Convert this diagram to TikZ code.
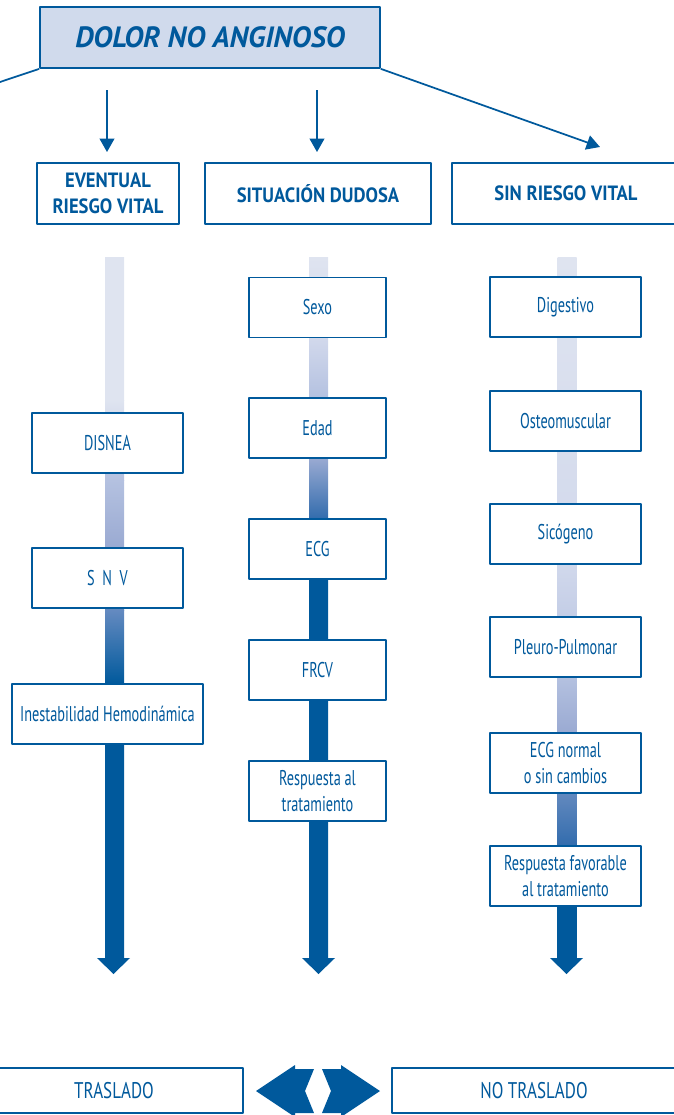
\documentclass[tikz,border=0pt]{standalone}
\usepackage{fontspec}
\setmainfont{PT Sans}
\newfontfamily\condfont{PT Sans}[FakeStretch=0.67]
\newfontfamily\headfont{PT Sans}[FakeStretch=0.9]
\newfontfamily\bajofont{PT Sans}[FakeStretch=0.75]
\usetikzlibrary{arrows.meta}
\definecolor{azul}{RGB}{0,89,156}
\definecolor{celeste}{RGB}{208,218,236}
\definecolor{b0}{RGB}{223,228,240}
\definecolor{b1}{RGB}{210,217,236}
\definecolor{b2}{RGB}{180,193,224}
\definecolor{b3}{RGB}{154,170,210}
\definecolor{b4}{RGB}{100,138,192}
\definecolor{b5}{RGB}{50,108,173}
\tikzset{
  caja/.style={draw=azul,line width=1.3pt,fill=white,text=azul,align=center,inner sep=0pt,
    font=\condfont\fontsize{16}{19.5}\selectfont,minimum height=45pt},
  cabeza/.style={caja,font=\headfont\bfseries\fontsize{15.5}{19}\selectfont,minimum height=45.75pt},
  linea/.style={draw=azul,line width=1.3pt},
}
\begin{document}
\begin{tikzpicture}[x=0.75pt,y=-0.75pt,>={Triangle[width=11pt,length=10pt]},line join=round]
\useasboundingbox (0,0) rectangle (674,1115);
% barras con degradado
\foreach \x/\ya/\yb/\ca/\cb in {
  114.5/257/400/b0/b0, 114.5/400/480/b0/b2, 114.5/480/548/b2/b3, 114.5/548/610/b3/b4,
  114.5/610/684/b4/azul, 114.5/684/959/azul/azul,
  318.5/257/337/b0/b1, 318.5/337/398/b1/b2, 318.5/398/458/b2/b3, 318.5/458/519/b3/b5,
  318.5/519/579/b5/azul, 318.5/579/959/azul/azul,
  567/257/560/b0/b1, 567/560/677/b1/b2, 567/677/733/b2/b3, 567/733/846/b3/b5,
  567/846/906/b5/azul, 567/906/959/azul/azul}
  \shade[top color=\ca,bottom color=\cb] (\x-9.5,\ya) rectangle (\x+9.5,\yb);
\foreach \x in {113.5,318.5,566.5}
  \fill[azul] (\x-16.5,958) -- (\x+16.5,958) -- (\x,974) -- cycle;

\path
(0,82)coordinate(izq)
(600,147)coordinate(der)
(107,90)coordinate(a1) (107,152)coordinate(a2)
(317,90)coordinate(b1) (317,152)coordinate(b2)
;
\node[caja,fill=celeste,minimum width=255pt,minimum height=45.75pt,
  font=\bfseries\itshape\fontsize{22}{26}\selectfont] (dolor) at (210,37.5) {DOLOR NO ANGINOSO};
\draw[linea] (dolor.south west) -- (izq);
\draw[linea,->] (dolor.south east) -- (der);
\draw[linea,->] (a1) -- (a2);
\draw[linea,->] (b1) -- (b2);

\node[cabeza,minimum width=106.5pt] (eventual) at (108,193.5) {EVENTUAL\\RIESGO VITAL};
\node[cabeza,minimum width=169.5pt] (dudosa) at (318,193.5) {SITUACIÓN DUDOSA};
\node[cabeza,minimum width=171pt] (sinriesgo) at (566,193.5) {SIN RIESGO VITAL};

% columna 1
\node[caja,minimum width=113pt] (disnea) at (107.5,443) {DISNEA};
\node[caja,minimum width=113pt] (snv) at (107.5,578) {S~~N~~V};
\node[caja,minimum width=143pt] (inest) at (107.5,714) {Inestabilidad Hemodinámica};
% columna 2
\foreach \n/\y/\t in {sexo/307.5/Sexo, edad/428/Edad, ecg/549/ECG, frcv/670/FRCV,
  resp/791/{Respuesta al\\tratamiento}}
  \node[caja,minimum width=103pt] (\n) at (317.5,\y) {\t};
% columna 3
\foreach \n/\y/\t in {dig/307/Digestivo, osteo/421/Osteomuscular, sico/534/Sicógeno,
  pleuro/647/Pleuro-Pulmonar, ecgn/763/{ECG normal\\o sin cambios},
  respf/876/{Respuesta favorable\\al tratamiento}}
  \node[caja,minimum width=113pt] (\n) at (565.5,\y) {\t};

% abajo
\node[caja,minimum width=193.5pt,minimum height=33.75pt,font=\bajofont\fontsize{17}{20}\selectfont]
  (traslado) at (114,1090.5) {TRASLADO};
\node[caja,minimum width=213pt,minimum height=33.75pt,font=\bajofont\fontsize{17}{20}\selectfont]
  (notraslado) at (534,1090.5) {NO TRASLADO};
\fill[azul] (256,1091) -- (295,1065) -- (295,1069) -- (314,1069) -- (305,1091) -- (314,1113)
  -- (295,1113) -- (295,1117) -- cycle;
\fill[azul] (380,1091) -- (341,1065) -- (341,1069) -- (322,1069) -- (331,1091) -- (322,1113)
  -- (341,1113) -- (341,1117) -- cycle;
\end{tikzpicture}
\end{document}
